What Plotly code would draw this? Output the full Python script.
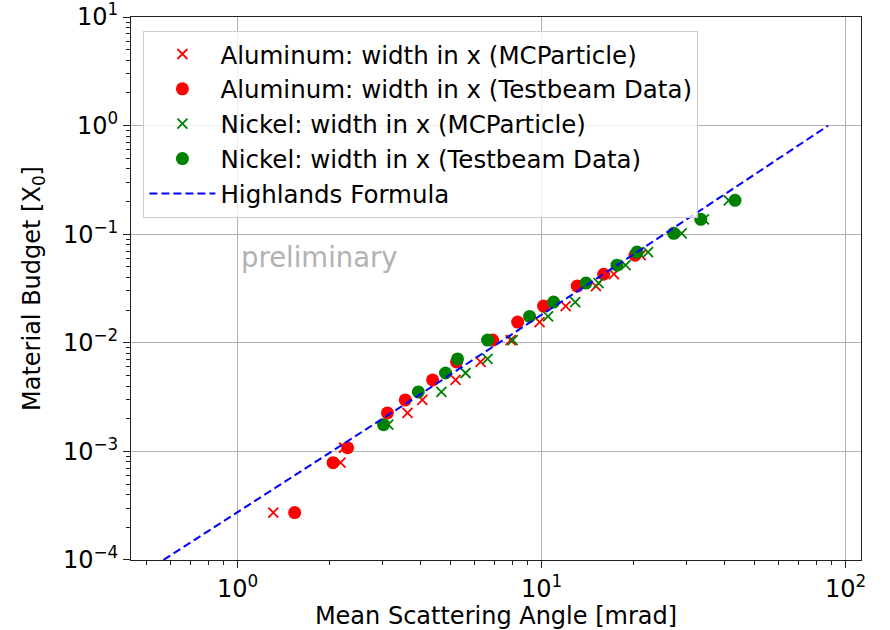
import plotly.graph_objects as go

# Aluminum: simulated (MCParticle) and measured widths
al_mc_angle = [1.31, 2.18, 2.24, 3.62, 4.05, 5.21, 6.30, 7.91, 9.85, 12.0, 15.1, 17.3, 21.2]
al_mc_budget = [2.73e-4, 7.86e-4, 1.08e-3, 2.26e-3, 2.98e-3, 4.55e-3, 6.67e-3,
                1.06e-2, 1.55e-2, 2.18e-2, 3.33e-2, 4.28e-2, 6.41e-2]
al_tb_angle = [1.54, 2.06, 2.30, 3.11, 3.56, 4.38, 5.25, 6.90, 8.34, 10.15, 13.1, 16.0, 20.3]
al_tb_budget = al_mc_budget

# Nickel: simulated (MCParticle) and measured widths
ni_mc_angle = [3.13, 4.68, 5.62, 6.64, 8.03, 10.5, 12.9, 15.4, 18.9, 22.4, 28.9, 34.2, 41.3]
ni_tb_angle = [3.02, 3.93, 4.83, 5.29, 6.64, 9.13, 10.95, 14.0, 17.7, 20.6, 27.2, 33.4, 43.3]
ni_budget = [1.76e-3, 3.53e-3, 5.27e-3, 7.1e-3, 1.06e-2, 1.75e-2, 2.37e-2,
             3.55e-2, 5.19e-2, 6.84e-2, 0.102, 0.137, 0.205]

# Highland prediction sampled along the curve
highland_angle = [0.57, 1.05, 2.05, 3.75, 7.24, 13.2, 25.3, 45.9, 87.7]
highland_budget = [1e-4, 3e-4, 1e-3, 3e-3, 1e-2, 3e-2, 1e-1, 3e-1, 1.0]

x_tick_vals = [1, 10, 100]
x_tick_text = ["10<sup>0</sup>", "10<sup>1</sup>", "10<sup>2</sup>"]
y_tick_vals = [1e-4, 1e-3, 1e-2, 1e-1, 1, 10]
y_tick_text = ["10<sup>−4</sup>", "10<sup>−3</sup>", "10<sup>−2</sup>",
               "10<sup>−1</sup>", "10<sup>0</sup>", "10<sup>1</sup>"]

FONT = "DejaVu Sans"

x_minor = [k * 10 ** n for n in range(-1, 3) for k in range(2, 10)]
y_minor = [k * 10.0 ** n for n in range(-4, 1) for k in range(2, 10)]

fig = go.Figure()

fig.add_trace(go.Scatter(
    x=al_mc_angle, y=al_mc_budget, mode="markers", name="Aluminum: width in x (MCParticle)",
    marker=dict(color="red", symbol="x-thin", size=10, line=dict(width=1.8, color="red")),
    legendgroup="a"))
fig.add_trace(go.Scatter(
    x=al_tb_angle, y=al_tb_budget, mode="markers", name="Aluminum: width in x (Testbeam Data)",
    marker=dict(color="red", symbol="circle", size=13), legendgroup="b"))
fig.add_trace(go.Scatter(
    x=ni_mc_angle, y=ni_budget, mode="markers", name="Nickel: width in x (MCParticle)",
    marker=dict(color="green", symbol="x-thin", size=10, line=dict(width=1.8, color="green")),
    legendgroup="c"))
fig.add_trace(go.Scatter(
    x=ni_tb_angle, y=ni_budget, mode="markers", name="Nickel: width in x (Testbeam Data)",
    marker=dict(color="green", symbol="circle", size=13), legendgroup="d"))
fig.add_trace(go.Scatter(
    x=highland_angle, y=highland_budget, mode="lines", name="Highlands Formula",
    line=dict(color="blue", width=2, dash="8px,4px"), legendgroup="e"))

fig.add_annotation(
    x=0.004, y=-1.21, xref="x", yref="y", text="preliminary", showarrow=False,
    xanchor="left", yanchor="middle", font=dict(family=FONT, size=27.5, color="#b2b2b2"))

axis_common = dict(
    type="log", showline=True, linecolor="#222", linewidth=1, mirror=True,
    ticks="outside", ticklen=7, tickwidth=1, tickcolor="#222",
    showgrid=True, gridcolor="#b0b0b0", gridwidth=1, zeroline=False,
    tickfont=dict(family=FONT, size=24, color="black"), automargin=False,
    ticklabeloverflow="allow",
)

fig.update_xaxes(
    **axis_common, range=[-0.351, 2.051], tickmode="array",
    tickvals=x_tick_vals, ticktext=x_tick_text,
    minor=dict(tickmode="array", tickvals=x_minor, ticks="outside", ticklen=4,
               tickwidth=0.8, tickcolor="#222", showgrid=False),
    title=dict(text="Mean Scattering Angle [mrad]", font=dict(family=FONT, size=24, color="black")),
)
fig.update_yaxes(
    **axis_common, range=[-4.0005, 1.0005], tickmode="array",
    tickvals=y_tick_vals, ticktext=y_tick_text,
    minor=dict(tickmode="array", tickvals=y_minor, ticks="outside", ticklen=4,
               tickwidth=0.8, tickcolor="#222", showgrid=False),
    title=dict(text="Material Budget [X<sub>0</sub>]", font=dict(family=FONT, size=24, color="black")),
)

fig.update_layout(
    width=890, height=630,
    margin=dict(l=131, r=29, t=17, b=70),
    paper_bgcolor="white", plot_bgcolor="white",
    font=dict(family=FONT, size=24, color="black"),
    showlegend=True,
    legend=dict(
        x=0.017, y=0.975, xanchor="left", yanchor="top",
        bgcolor="rgba(255,255,255,0.8)", bordercolor="#cccccc", borderwidth=1,
        font=dict(family=FONT, size=24.5, color="black"),
        itemwidth=66, tracegroupgap=3, traceorder="normal",
    ),
)

fig.write_html("out.html")
